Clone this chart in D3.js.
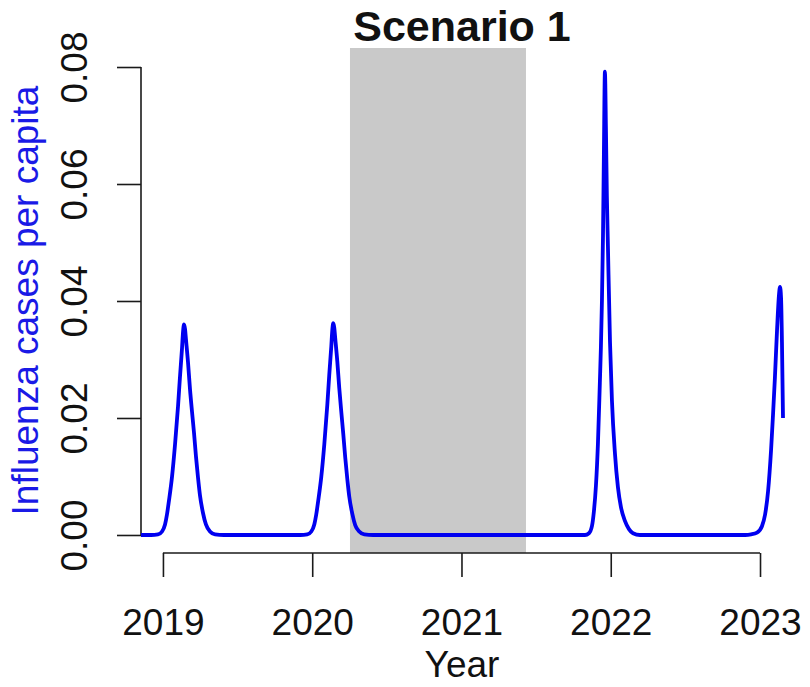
<!DOCTYPE html>
<html>
<head>
<meta charset="utf-8">
<script src="https://cdn.jsdelivr.net/npm/d3@7"></script>
<style>
  html, body { margin: 0; padding: 0; background: #ffffff; }
  svg { display: block; font-family: "Liberation Sans", Arial, sans-serif; }
</style>
</head>
<body>
<svg id="chart" width="810" height="687"></svg>
<script>
// ---- data ----
const titleText = "Scenario 1";
const xTitle = "Year";
const yTitle = "Influenza cases per capita";
const xTicks = [2019, 2020, 2021, 2022, 2023];
const yTicks = [0, 0.02, 0.04, 0.06, 0.08];
const yTickLabels = ["0.00", "0.02", "0.04", "0.06", "0.08"];
const shadedPeriod = [2020.253, 2021.432];
const xLimits = [2018.853, 2023.154];
const yLimits = [-0.00308, 0.08325];

const years = [
  2018.853, 2018.920, 2018.967, 2018.994, 2019.014, 2019.027, 2019.040, 2019.061, 2019.081, 2019.101,
  2019.114, 2019.128, 2019.134, 2019.141, 2019.148, 2019.154, 2019.168, 2019.181, 2019.195, 2019.208,
  2019.221, 2019.235, 2019.248, 2019.268, 2019.288, 2019.315, 2019.349, 2019.409, 2019.700, 2019.920,
  2019.967, 2019.994, 2020.014, 2020.027, 2020.040, 2020.061, 2020.081, 2020.101, 2020.114, 2020.128,
  2020.134, 2020.141, 2020.148, 2020.154, 2020.168, 2020.181, 2020.195, 2020.208, 2020.221, 2020.235,
  2020.248, 2020.268, 2020.288, 2020.315, 2020.349, 2020.409, 2021.000, 2021.500, 2021.780, 2021.827,
  2021.854, 2021.874, 2021.887, 2021.901, 2021.914, 2021.927, 2021.934, 2021.941, 2021.948, 2021.954,
  2021.961, 2021.968, 2021.974, 2021.981, 2021.995, 2022.008, 2022.028, 2022.048, 2022.068, 2022.095,
  2022.122, 2022.149, 2022.196, 2022.500, 2022.900, 2022.940, 2022.980, 2023.013, 2023.034, 2023.054,
  2023.074, 2023.087, 2023.100, 2023.114, 2023.127, 2023.134, 2023.141, 2023.147, 2023.154
];
const cases = [
  0, 0, 0.0001, 0.0006, 0.0018, 0.0035, 0.0058, 0.0100, 0.0155, 0.0220,
  0.0270, 0.0320, 0.0345, 0.0360, 0.0352, 0.0335, 0.0295, 0.0250, 0.0210, 0.0175,
  0.0135, 0.0098, 0.0068, 0.0038, 0.0018, 0.0006, 0.0001, 0, 0, 0,
  0.0001, 0.0006, 0.0018, 0.0035, 0.0058, 0.0100, 0.0155, 0.0222, 0.0273, 0.0323,
  0.0348, 0.0362, 0.0354, 0.0337, 0.0297, 0.0252, 0.0210, 0.0173, 0.0133, 0.0096,
  0.0066, 0.0037, 0.0017, 0.0006, 0.0001, 0, 0, 0, 0, 0,
  0.0003, 0.0015, 0.0040, 0.0085, 0.0155, 0.0260, 0.0320, 0.0400, 0.0510, 0.0650,
  0.0792, 0.0690, 0.0580, 0.0495, 0.0330, 0.0230, 0.0140, 0.0082, 0.0048, 0.0024,
  0.0010, 0.0003, 0, 0, 0, 0.0001, 0.0004, 0.0015, 0.0035, 0.0075,
  0.0145, 0.0205, 0.0270, 0.0350, 0.0410, 0.0424, 0.0405, 0.0330, 0.0200
];

// ---- drawing ----
const svg = d3.select("#chart");
const plot = { left: 141, right: 783, top: 48, bottom: 553 };

const x = d3.scaleLinear().domain(xLimits).range([plot.left, plot.right]);
const y = d3.scaleLinear().domain(yLimits).range([plot.bottom, plot.top]);

const axisColor = "#1a1a1a";
const fontSize = 37;

// shaded period
svg.append("rect")
  .attr("x", x(shadedPeriod[0]))
  .attr("y", y(yLimits[1]))
  .attr("width", x(shadedPeriod[1]) - x(shadedPeriod[0]))
  .attr("height", y(yLimits[0]) - y(yLimits[1]))
  .attr("fill", "#c9c9c9");

// x axis
const xAxis = d3.axisBottom(x)
  .tickValues(xTicks)
  .tickSize(24)
  .tickSizeOuter(0)
  .tickFormat(d3.format("d"));
const gx = svg.append("g")
  .attr("transform", `translate(0,${plot.bottom})`)
  .call(xAxis);
gx.select(".domain").remove();
gx.append("line")
  .attr("x1", x(xTicks[0])).attr("x2", x(xTicks[xTicks.length - 1]))
  .attr("y1", 0).attr("y2", 0)
  .attr("stroke", axisColor).attr("stroke-width", 1.6);
gx.selectAll(".tick line").attr("stroke", axisColor).attr("stroke-width", 1.6);
gx.selectAll(".tick text")
  .attr("y", 82).attr("dy", 0)
  .attr("fill", "#111")
  .style("font-size", fontSize + "px")
  .style("font-family", '"Liberation Sans", Arial, sans-serif');

// y axis
const yAxis = d3.axisLeft(y)
  .tickValues(yTicks)
  .tickSize(24)
  .tickSizeOuter(0)
  .tickFormat((d, i) => yTickLabels[i]);
const gy = svg.append("g")
  .attr("transform", `translate(${plot.left},0)`)
  .call(yAxis);
gy.select(".domain").remove();
gy.append("line")
  .attr("x1", 0).attr("x2", 0)
  .attr("y1", y(yTicks[0])).attr("y2", y(yTicks[yTicks.length - 1]))
  .attr("stroke", axisColor).attr("stroke-width", 1.6);
gy.selectAll(".tick line").attr("stroke", axisColor).attr("stroke-width", 1.6);
gy.selectAll(".tick text")
  .attr("x", null).attr("dy", 0)
  .attr("transform", "translate(-54,0) rotate(-90)")
  .attr("text-anchor", "middle")
  .attr("fill", "#111")
  .style("font-size", fontSize + "px")
  .style("font-family", '"Liberation Sans", Arial, sans-serif');

// series line
const line = d3.line()
  .x((d, i) => x(years[i]))
  .y(d => y(d))
  .curve(d3.curveMonotoneX);
svg.append("path")
  .datum(cases)
  .attr("d", line)
  .attr("fill", "none")
  .attr("stroke", "#0000f0")
  .attr("stroke-width", 3.8)
  .attr("stroke-linejoin", "round")
  .attr("stroke-linecap", "butt");

// title
svg.append("text")
  .attr("x", (plot.left + plot.right) / 2)
  .attr("y", 41)
  .attr("text-anchor", "middle")
  .style("font-size", "43px")
  .style("font-weight", "bold")
  .attr("fill", "#111")
  .text(titleText);

// axis titles
svg.append("text")
  .attr("x", (plot.left + plot.right) / 2)
  .attr("y", 677)
  .attr("text-anchor", "middle")
  .style("font-size", fontSize + "px")
  .attr("fill", "#111")
  .text(xTitle);

svg.append("text")
  .attr("transform", `translate(38,${(plot.top + plot.bottom) / 2}) rotate(-90)`)
  .attr("text-anchor", "middle")
  .style("font-size", fontSize + "px")
  .attr("fill", "#1a1ae6")
  .text(yTitle);
</script>
</body>
</html>
